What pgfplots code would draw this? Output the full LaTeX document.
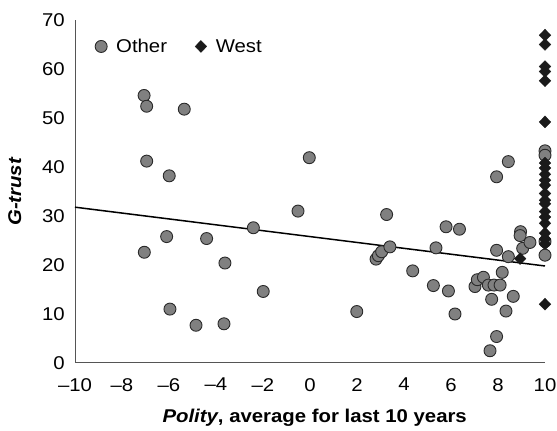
\documentclass[border=0pt]{standalone}
\usepackage{fontspec}
\setmainfont{Liberation Sans}[FakeStretch=1.1]
\usepackage{pgfplots}
\pgfplotsset{compat=1.18}
\definecolor{ptfill}{HTML}{808080}
\definecolor{ptedge}{HTML}{2A2A2A}
\definecolor{wfill}{HTML}{1A1A1A}
\definecolor{axgray}{HTML}{555555}
\begin{document}
\begin{tikzpicture}
\useasboundingbox (0pt,0pt) rectangle (557pt,431pt);
\begin{axis}[
  at={(75pt,68pt)}, anchor=south west,
  scale only axis, width=470pt, height=343pt,
  xmin=-10, xmax=10, ymin=0, ymax=70,
  clip=false,
  axis x line=bottom, axis y line=left,
  axis line style={-, axgray, line width=1pt},
  major tick length=0pt,
  xtick={-10,-8,...,10},
  xticklabels={\textendash10,\textendash8,\textendash6,\textendash4,\textendash2,0,2,4,6,8,10},
  ytick={0,10,...,70},
  ticklabel style={font=\fontsize{18.5}{20}\selectfont, inner sep=0pt},
  yticklabel style={xshift=-10pt},
  xticklabel style={yshift=-15pt},
  /pgf/number format/assume math mode=true,
  xlabel={\textbf{\textit{Polity}, average for last 10 years}},
  xlabel style={font=\fontsize{18.5}{20}\selectfont, at={(axis description cs:0.51,-0.16)}, anchor=center},
  ylabel={\textbf{\textit{G-trust}}},
  ylabel style={font=\fontsize{18.5}{20}\selectfont, at={(axis description cs:-0.128,0.5)}, anchor=center, rotate=0},
  legend columns=2,
  legend style={draw=none, fill=none, at={(axis cs:-9.15,64.6)}, anchor=west,
    font=\fontsize{18.5}{20}\selectfont, inner sep=0pt,
    /tikz/every odd column/.append style={column sep=7pt},
    /tikz/every even column/.append style={column sep=26pt}},
  legend image code/.code={\draw[mark repeat=2,mark phase=2,#1] plot coordinates {(0pt,0pt)(5pt,0pt)(10pt,0pt)};},
]
\addplot[only marks, mark=*, mark size=6pt, mark options={fill=ptfill, draw=ptedge, line width=0.9pt}] coordinates {
(-7.06,54.6) (-6.95,52.4) (-5.35,51.8) (-6.95,41.2) (-5.99,38.2)
(-7.05,22.6) (-6.1,25.8) (-4.4,25.4) (-3.62,20.4) (-2.41,27.6)
(-1.99,14.6) (-5.96,11.0) (-4.85,7.7) (-3.66,8.0) (-0.03,41.9)
(-0.51,31.0) (1.99,10.5) (2.81,21.2) (2.91,21.9) (3.05,22.7)
(3.4,23.7) (3.26,30.3) (4.37,18.8) (5.25,15.8) (5.36,23.5)
(5.79,27.8) (5.89,14.7) (6.17,10.0) (6.36,27.3) (7.02,15.6)
(7.12,17.0) (7.38,17.5) (7.59,15.9) (7.83,15.9) (8.09,15.9)
(7.73,13.0) (7.66,2.5) (7.94,5.4) (7.94,38.0) (7.94,23.0)
(8.18,18.5) (8.34,10.6) (8.44,21.7) (8.44,41.1) (8.65,13.6)
(8.96,26.8) (8.94,26.0) (9.05,23.4) (9.36,24.6)
(10,43.3) (10,42.4) (10,24.8)
};
\addlegendentry{Other}
\addplot[only marks, mark=diamond*, mark size=6pt, mark options={fill=wfill, draw=wfill, line width=0.3pt, xscale=1.3}] coordinates {
(8.94,21.3)
(10,66.9) (10,65.0) (10,60.5) (10,59.5) (10,57.6) (10,49.2)
(10,40.8) (10,39.8) (10,38.5) (10,37.3) (10,36.3) (10,34.6)
(10,33.2) (10,32.5) (10,30.9) (10,29.8) (10,28.5) (10,26.5)
(10,25.3) (10,24.3) (10,12.0)
};
\addlegendentry{West}
\addplot[only marks, mark=*, mark size=6pt, mark options={fill=ptfill, draw=ptedge, line width=0.9pt}, forget plot] coordinates {(10,22.0)};
\addplot[black, line width=1.5pt, no marks, forget plot] coordinates {(-10,31.8) (10,19.8)};
\end{axis}
\end{tikzpicture}
\end{document}
